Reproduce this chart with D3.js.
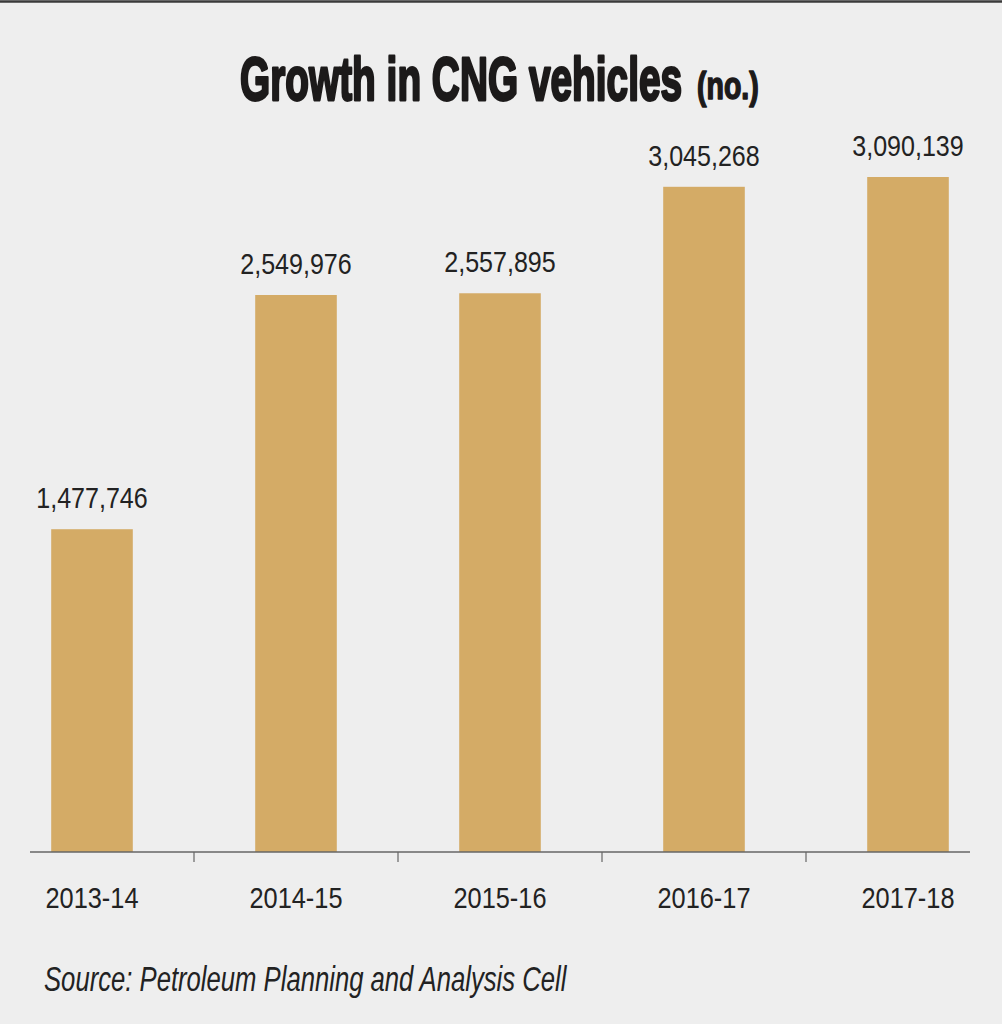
<!DOCTYPE html>
<html>
<head>
<meta charset="utf-8">
<script src="https://cdn.jsdelivr.net/npm/d3@7/dist/d3.min.js"></script>
<style>
  html, body { margin: 0; padding: 0; background: #eeeeee; }
  svg { display: block; }
</style>
</head>
<body>
<script>
const categories = ["2013-14", "2014-15", "2015-16", "2016-17", "2017-18"];
const vehicles = [1477746, 2549976, 2557895, 3045268, 3090139];
const titleMain = "Growth in CNG vehicles";
const titleUnit = "(no.)";
const sourceText = "Source: Petroleum Planning and Analysis Cell";

const W = 1002, H = 1024;
const baseY = 852;
const font = "'Liberation Sans', Arial, Helvetica, sans-serif";

const svg = d3.select("body").append("svg")
  .attr("width", W).attr("height", H);

svg.append("rect").attr("width", W).attr("height", H).attr("fill", "#eeeeee");
svg.append("line").attr("x1", 0).attr("x2", W).attr("y1", 1.5).attr("y2", 1.5)
  .attr("stroke", "#3a3a3a").attr("stroke-width", 2.5);

// condense text horizontally by a factor of its natural length
function condense(sel, factor) {
  sel.each(function () {
    const len = this.getComputedTextLength();
    d3.select(this).attr("textLength", len * factor).attr("lengthAdjust", "spacingAndGlyphs");
  });
}

const x = d3.scaleBand().domain(categories).range([-10, 1010])
  .paddingInner(0.6).paddingOuter(0.3);
const y = d3.scaleLinear().domain([0, 3090139]).range([baseY, 177]);

// Title (horizontally condensed with a transform)
svg.append("g").attr("transform", "translate(240,100) scale(0.626,1)")
  .append("text")
  .attr("x", 0).attr("y", 0)
  .attr("font-family", font).attr("font-weight", "bold").attr("font-size", 62)
  .attr("fill", "#1c1a1a").attr("stroke", "#1c1a1a").attr("stroke-width", 2.8)
  .attr("stroke-linejoin", "round")
  .text(titleMain);
svg.append("g").attr("transform", "translate(697,99) scale(0.75,1)")
  .append("text")
  .attr("x", 0).attr("y", 0)
  .attr("font-family", font).attr("font-weight", "bold").attr("font-size", 38)
  .attr("fill", "#1c1a1a").attr("stroke", "#1c1a1a").attr("stroke-width", 1.6)
  .attr("stroke-linejoin", "round")
  .text(titleUnit);

// Bars
svg.append("g").selectAll("rect").data(vehicles).join("rect")
  .attr("x", (d, i) => x(categories[i]))
  .attr("width", x.bandwidth())
  .attr("y", d => y(d))
  .attr("height", d => baseY - y(d))
  .attr("fill", "#d4ab66");

// Value labels
const fmt = d3.format(",");
svg.append("g").selectAll("text").data(vehicles).join("text")
  .attr("x", (d, i) => x(categories[i]) + x.bandwidth() / 2)
  .attr("y", d => y(d) - 21)
  .attr("text-anchor", "middle")
  .attr("font-family", font).attr("font-size", 30)
  .attr("fill", "#222")
  .text(d => fmt(d))
  .call(condense, 0.835);

// Axis
const axisG = svg.append("g").attr("transform", `translate(0,${baseY})`);
axisG.append("line").attr("x1", 30).attr("x2", 970).attr("y1", 0).attr("y2", 0)
  .attr("stroke", "#666").attr("stroke-width", 1.5);
const bounds = categories.slice(1).map(c => x(c) - x.step() * x.paddingInner() / 2);
axisG.selectAll(".tick").data(bounds).join("line")
  .attr("x1", d => d).attr("x2", d => d).attr("y1", 0).attr("y2", 10)
  .attr("stroke", "#666").attr("stroke-width", 1.2);
axisG.selectAll(".lbl").data(categories).join("text")
  .attr("x", d => x(d) + x.bandwidth() / 2)
  .attr("y", 56)
  .attr("text-anchor", "middle")
  .attr("font-family", font).attr("font-size", 30)
  .attr("fill", "#222")
  .text(d => d)
  .call(condense, 0.845);

// Source
svg.append("text")
  .attr("x", 44).attr("y", 991)
  .attr("font-family", font).attr("font-style", "italic").attr("font-size", 35)
  .attr("fill", "#222")
  .text(sourceText)
  .call(condense, 0.733);
</script>
</body>
</html>
